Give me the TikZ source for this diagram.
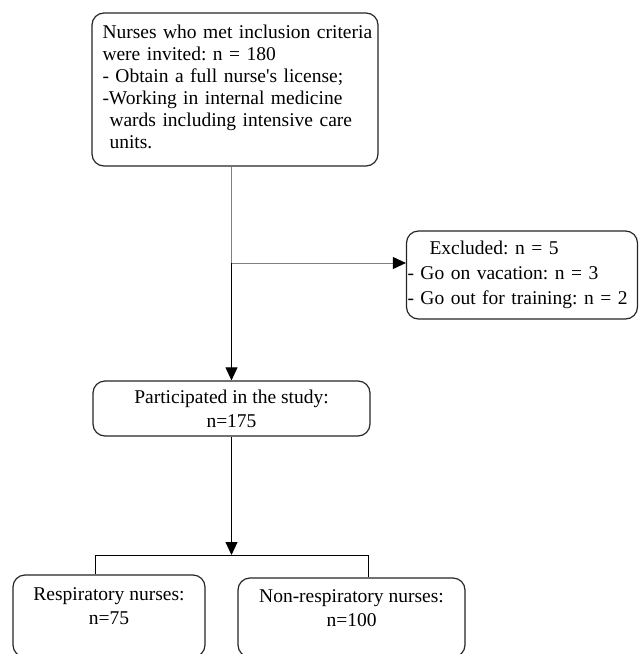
\documentclass[tikz,border=0pt]{standalone}
\usepackage{fontspec}
\setmainfont{Liberation Serif}[Ligatures=TeXOff]
\usetikzlibrary{arrows.meta}
\frenchspacing
\hfuzz=20pt
\begin{document}
\frenchspacing
\begin{tikzpicture}[x=1pt,y=-1pt,
  rbox/.style={draw=black!85, line width=1.2pt, rounded corners=12pt, inner sep=0pt},
  link/.style={line width=0.9pt, draw=black},
  faint/.style={line width=0.9pt, draw=black!50},
  tip/.style={-{Triangle[length=13pt,width=12pt]}}]
\useasboundingbox (0,0) rectangle (639,654);
\clip (0,0) rectangle (639,654);
\fill[white] (0,0) rectangle (639,654);

\node[rbox, minimum width=286pt, minimum height=153pt, text width=265pt, align=left,
      font=\fontsize{19.5}{22}\selectfont] (top) at (235,89.5)
  {\mbox{Nurses who met inclusion criteria}\\
   were invited: n = 180\\
   - Obtain a full nurse's license;\\
   \makebox[265pt][s]{-Working in internal medicine}\\
   \hspace*{7pt}\makebox[258pt][s]{wards including intensive care}\\
   \hspace*{7pt}units.\rule[-5pt]{0pt}{5pt}};

\node[rbox, minimum width=231pt, minimum height=88pt, text width=229pt, align=left,
      font=\fontsize{19.5}{25}\selectfont] (excl) at (522,275)
  {\hspace*{22pt}Excluded: n = 5\\
   - Go on vacation: n = 3\\
   - Go out for training: n = 2};

\node[rbox, minimum width=277pt, minimum height=55pt, align=center,
      font=\fontsize{19.5}{24}\selectfont] (part) at (231.5,408.5)
  {Participated in the study:\\n=175};

\node[rbox, minimum width=192pt, minimum height=82pt,
      font=\fontsize{19.5}{24.5}\selectfont] (resp) at (109,616)
  {\parbox[c][82pt][t]{192pt}{\centering\vspace*{12.5pt}Respiratory nurses:\\n=75}};

\node[rbox, minimum width=227pt, minimum height=79pt,
      font=\fontsize{19.5}{23.5}\selectfont] (nonresp) at (351.5,617.5)
  {\parbox[c][79pt][t]{227pt}{\centering\vspace*{12pt}Non-respiratory nurses:\\n=100}};

\coordinate (split) at (231.5,263);
\coordinate (fork) at (231.5,555);
\coordinate (forkL) at (95,555);
\coordinate (forkR) at (368,555);

\draw[faint] (top.south -| part.north) -- (split);
\draw[faint, {Triangle[length=13pt,width=12pt,color=black]}-] (excl.west |- split) -- (split);
\draw[link, tip] (split) -- (part.north);
\draw[link, tip] (part.south) -- (fork);
\draw[link] (resp.north -| forkL) -- (forkL) -- (forkR) -- (nonresp.north -| forkR);
\end{tikzpicture}
\end{document}
